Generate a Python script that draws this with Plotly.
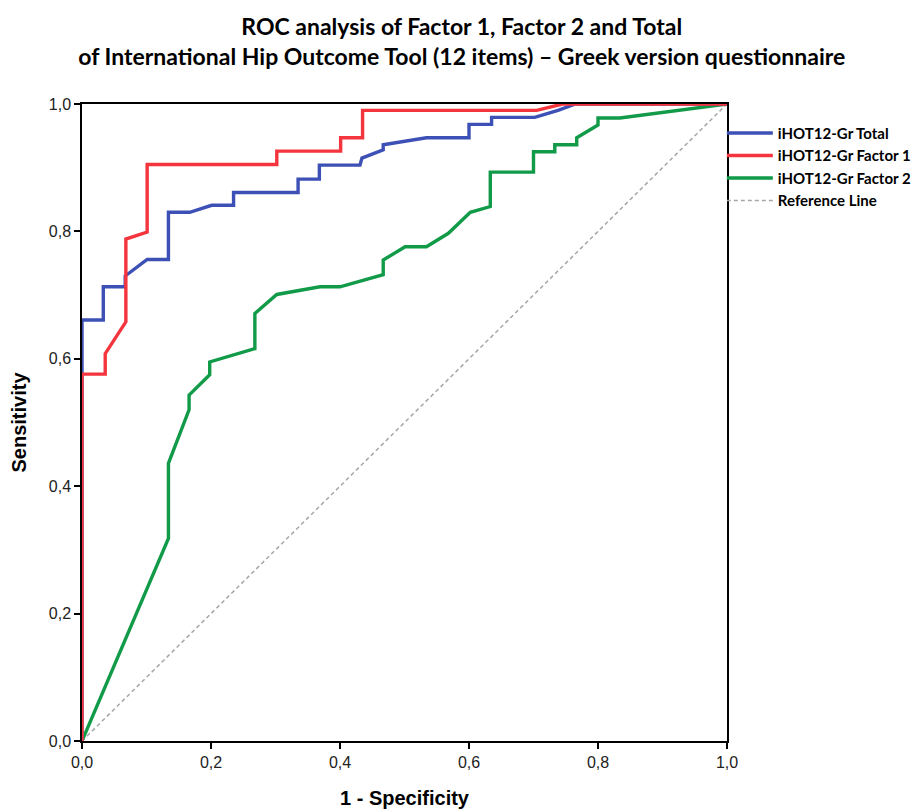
import plotly.graph_objects as go

# ---- data ----
total_x = [0, 0, 0.033, 0.033, 0.067, 0.067, 0.101, 0.134, 0.134, 0.167, 0.201, 0.235, 0.235,
           0.335, 0.335, 0.368, 0.368, 0.431, 0.434, 0.467, 0.467, 0.534, 0.600, 0.600, 0.635,
           0.635, 0.702, 0.738, 0.765, 1.0]
total_y = [0, 0.661, 0.661, 0.713, 0.713, 0.730, 0.756, 0.756, 0.830, 0.830, 0.841, 0.841, 0.861,
           0.861, 0.882, 0.882, 0.904, 0.904, 0.915, 0.928, 0.936, 0.947, 0.947, 0.968, 0.968,
           0.979, 0.979, 0.990, 1.0, 1.0]

factor1_x = [0, 0, 0.036, 0.036, 0.068, 0.068, 0.101, 0.101, 0.302, 0.302, 0.401, 0.401, 0.435,
             0.435, 0.705, 0.745, 1.0]
factor1_y = [0, 0.576, 0.576, 0.608, 0.658, 0.788, 0.799, 0.905, 0.905, 0.926, 0.926, 0.947, 0.947,
             0.990, 0.990, 1.0, 1.0]

factor2_x = [0, 0.134, 0.134, 0.166, 0.166, 0.198, 0.198, 0.268, 0.268, 0.302, 0.369, 0.400, 0.467,
             0.467, 0.501, 0.534, 0.568, 0.602, 0.633, 0.633, 0.700, 0.700, 0.733, 0.733, 0.767,
             0.767, 0.800, 0.800, 0.834, 1.0]
factor2_y = [0, 0.318, 0.436, 0.520, 0.543, 0.575, 0.595, 0.616, 0.671, 0.701, 0.713, 0.713, 0.732,
             0.755, 0.776, 0.776, 0.797, 0.830, 0.839, 0.893, 0.893, 0.925, 0.925, 0.936, 0.936,
             0.947, 0.967, 0.978, 0.978, 1.0]

ref_x = [0, 1]
ref_y = [0, 1]

series_names = ["iHOT12-Gr Total", "iHOT12-Gr Factor 1", "iHOT12-Gr Factor 2", "Reference Line"]
tick_vals = [0, 0.2, 0.4, 0.6, 0.8, 1.0]

title_lines = ["ROC analysis of Factor 1, Factor 2 and Total",
               "of International Hip Outcome Tool (12 items) \u2013 Greek version questionnaire"]

# ---- figure ----
fig = go.Figure()
fig.add_trace(go.Scatter(x=ref_x, y=ref_y, mode="lines", name=series_names[3], legendrank=4,
                         line=dict(color="#a6a6a6", width=1.5, dash="4px,3px")))
fig.add_trace(go.Scatter(x=factor2_x, y=factor2_y, mode="lines", name=series_names[2], legendrank=3,
                         line=dict(color="#119a48", width=3.4)))
fig.add_trace(go.Scatter(x=total_x, y=total_y, mode="lines", name=series_names[0], legendrank=1,
                         line=dict(color="#3d50b6", width=3.4)))
fig.add_trace(go.Scatter(x=factor1_x, y=factor1_y, mode="lines", name=series_names[1], legendrank=2,
                         line=dict(color="#f5353d", width=3.4)))

axis_common = dict(range=[0, 1], tickvals=tick_vals, tickformat=".1f", showgrid=False, zeroline=False,
                   showline=True, linecolor="black", linewidth=1.5, mirror=True,
                   ticks="outside", ticklen=6, tickwidth=1.5, tickcolor="black", automargin=False,
                   tickfont=dict(family="Liberation Sans", size=16, color="#222"))

fig.update_xaxes(**axis_common,
                 title=dict(text="<b>1 - Specificity</b>", standoff=25,
                            font=dict(family="Liberation Sans", size=20, color="black")))
fig.update_yaxes(**axis_common,
                 title=dict(text="<b>Sensitivity</b>", standoff=18,
                            font=dict(family="Liberation Sans", size=20, color="black")))

# the page has an 8px body margin, so the figure is sized to fill the rest of the window
fig.update_layout(
    width=913, height=801,
    separators=",.",
    paper_bgcolor="white", plot_bgcolor="white",
    margin=dict(l=74, r=194, t=96, b=68, autoexpand=False),
    title=dict(text="<b>" + title_lines[0] + "<br>" + title_lines[1] + "</b>",
               x=0.497, xanchor="center", y=0.966, yanchor="top",
               font=dict(family="Lato", size=23, color="black")),
    legend=dict(x=0.992, xanchor="left", y=0.980, yanchor="top", bgcolor="rgba(0,0,0,0)",
                font=dict(family="Lato", size=15, color="black", weight="bold"), tracegroupgap=0,
                itemwidth=46),
    showlegend=True,
)

fig.write_html("out.html")
